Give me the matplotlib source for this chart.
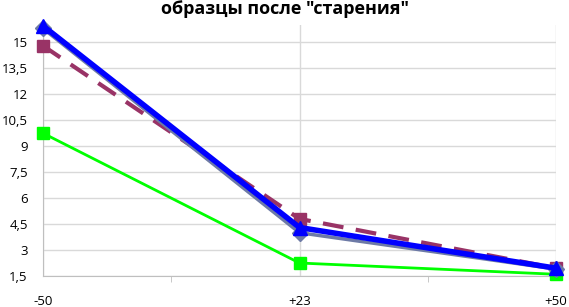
import matplotlib
matplotlib.use("Agg")
import matplotlib.pyplot as plt
import numpy as np

categories = ["-50", "+23", "+50"]
gray_vals = [15.8, 4.0, 1.9]
blue_vals = [15.95, 4.3, 1.95]
purple_vals = [14.8, 4.8, 1.95]
green_vals = [9.75, 2.25, 1.6]
yticks = [1.5, 3, 4.5, 6, 7.5, 9, 10.5, 12, 13.5, 15]
ytick_labels = ["1,5", "3", "4,5", "6", "7,5", "9", "10,5", "12", "13,5", "15"]
title = 'образцы после "старения"'

fig = plt.figure(figsize=(5.69, 3.07), dpi=100)
ax = fig.add_axes([43/569, 31/307, (556-43)/569, (276-25)/307])
x = np.arange(len(categories))

ax.plot(x, green_vals, color="#00ff00", lw=2, marker="s", ms=9, zorder=3, clip_on=False)
ax.plot(x, purple_vals, color="#993366", lw=3, ls=(0, (5, 3)), marker="s", ms=9, zorder=4, clip_on=False)
ax.plot(x, gray_vals, color="#6d7aa6", lw=2.5, marker="D", ms=8, zorder=5, clip_on=False)
ax.plot(x, blue_vals, color="#0000ff", lw=4, marker="^", ms=10, zorder=6, clip_on=False)

ax.set_xlim(0, 2)
ax.set_ylim(1.5, 16.0)
ax.set_yticks(yticks)
ax.set_yticklabels(ytick_labels, fontsize=9.5, family="Open Sans")
ax.set_xticks(x)
ax.set_xticks([0.5, 1.5], minor=True)
ax.set_xticklabels(categories, fontsize=9.5, family="Open Sans")
ax.tick_params(axis="x", which="major", length=0, pad=14)
ax.tick_params(axis="x", which="minor", length=4, color="#bfbfbf")
ax.tick_params(axis="y", length=0, pad=11)
ax.grid(True, which="major", color="#d9d9d9", lw=1)
ax.set_axisbelow(True)
for s in ["top", "right"]:
    ax.spines[s].set_visible(False)
ax.spines["left"].set_color("#bfbfbf")
ax.spines["bottom"].set_color("#bfbfbf")
for lab in ax.get_xticklabels() + ax.get_yticklabels():
    lab.set_color("#000000")

fig.text(285/569, 1 - 9/307, title, ha="center", va="center", fontsize=13,
         fontweight="bold", family="Open Sans")

fig.savefig("out.png", dpi=100)
